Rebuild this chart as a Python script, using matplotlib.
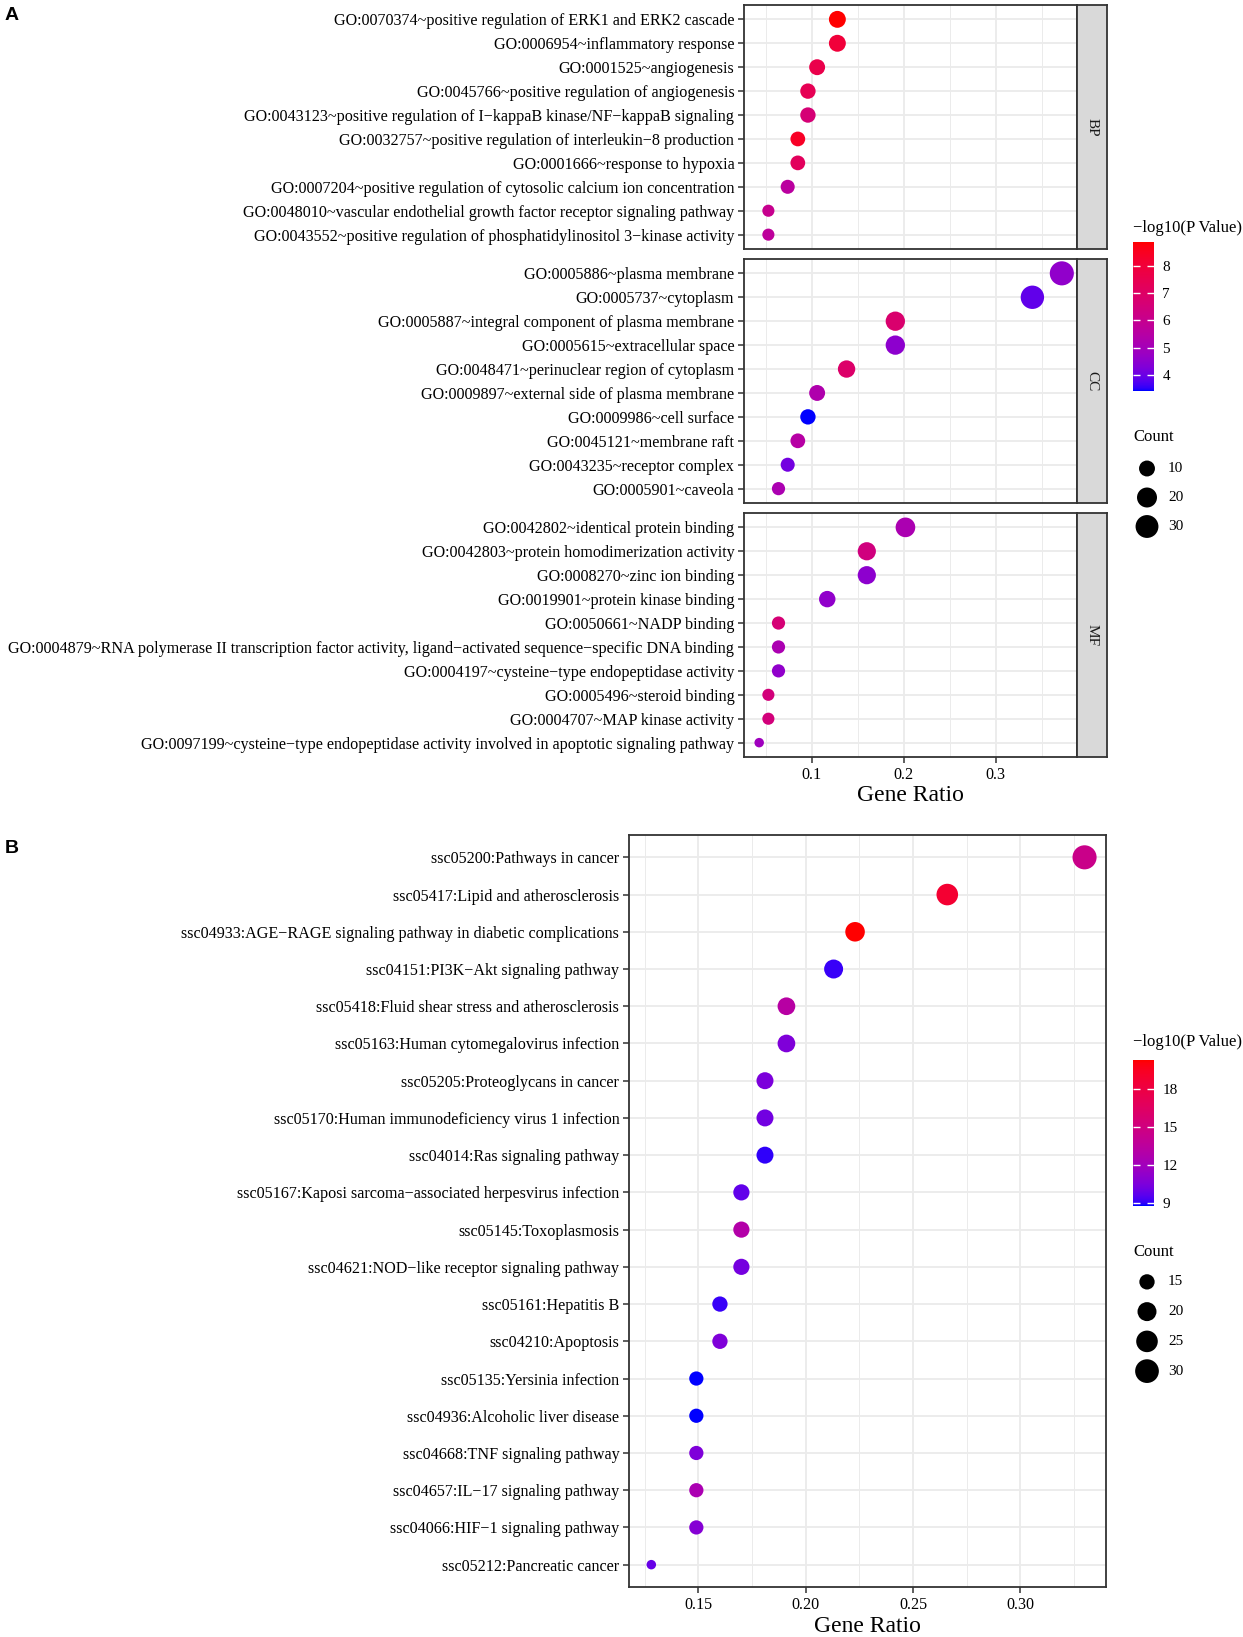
import numpy as np
import matplotlib
matplotlib.use("Agg")
import matplotlib.pyplot as plt
from matplotlib.colors import ListedColormap, Normalize
import matplotlib.cm as cm

plt.rcParams['font.family'] = ['Liberation Serif', 'DejaVu Serif']

# ---------------- panel A : GO terms ----------------
bp_terms = ["GO:0070374~positive regulation of ERK1 and ERK2 cascade",
            "GO:0006954~inflammatory response",
            "GO:0001525~angiogenesis",
            "GO:0045766~positive regulation of angiogenesis",
            "GO:0043123~positive regulation of I−kappaB kinase/NF−kappaB signaling",
            "GO:0032757~positive regulation of interleukin−8 production",
            "GO:0001666~response to hypoxia",
            "GO:0007204~positive regulation of cytosolic calcium ion concentration",
            "GO:0048010~vascular endothelial growth factor receptor signaling pathway",
            "GO:0043552~positive regulation of phosphatidylinositol 3−kinase activity"]
bp_ratio = [0.128, 0.128, 0.106, 0.096, 0.096, 0.085, 0.085, 0.074, 0.053, 0.053]
bp_count = [12, 12, 10, 9, 9, 8, 8, 7, 5, 5]
bp_logp = [8.88, 8.0, 7.6, 7.4, 6.6, 8.4, 7.2, 5.6, 6.0, 5.7]

cc_terms = ["GO:0005886~plasma membrane",
            "GO:0005737~cytoplasm",
            "GO:0005887~integral component of plasma membrane",
            "GO:0005615~extracellular space",
            "GO:0048471~perinuclear region of cytoplasm",
            "GO:0009897~external side of plasma membrane",
            "GO:0009986~cell surface",
            "GO:0045121~membrane raft",
            "GO:0043235~receptor complex",
            "GO:0005901~caveola"]
cc_ratio = [0.372, 0.340, 0.191, 0.191, 0.138, 0.106, 0.096, 0.085, 0.074, 0.064]
cc_count = [35, 32, 18, 18, 13, 10, 9, 8, 7, 6]
cc_logp = [4.6, 3.9, 6.8, 4.5, 6.9, 5.3, 3.41, 5.5, 4.1, 5.2]

mf_terms = ["GO:0042802~identical protein binding",
            "GO:0042803~protein homodimerization activity",
            "GO:0008270~zinc ion binding",
            "GO:0019901~protein kinase binding",
            "GO:0050661~NADP binding",
            "GO:0004879~RNA polymerase II transcription factor activity, ligand−activated sequence−specific DNA binding",
            "GO:0004197~cysteine−type endopeptidase activity",
            "GO:0005496~steroid binding",
            "GO:0004707~MAP kinase activity",
            "GO:0097199~cysteine−type endopeptidase activity involved in apoptotic signaling pathway"]
mf_ratio = [0.202, 0.160, 0.160, 0.117, 0.064, 0.064, 0.064, 0.053, 0.053, 0.043]
mf_count = [19, 15, 15, 11, 6, 6, 6, 5, 5, 4]
mf_logp = [5.2, 6.4, 4.5, 4.6, 6.6, 5.2, 4.6, 6.5, 6.5, 4.9]

a_logp_ticks = [4, 5, 6, 7, 8]
a_count_keys = [10, 20, 30]

# ---------------- panel B : KEGG pathways ----------------
kegg_terms = ["ssc05200:Pathways in cancer",
              "ssc05417:Lipid and atherosclerosis",
              "ssc04933:AGE−RAGE signaling pathway in diabetic complications",
              "ssc04151:PI3K−Akt signaling pathway",
              "ssc05418:Fluid shear stress and atherosclerosis",
              "ssc05163:Human cytomegalovirus infection",
              "ssc05205:Proteoglycans in cancer",
              "ssc05170:Human immunodeficiency virus 1 infection",
              "ssc04014:Ras signaling pathway",
              "ssc05167:Kaposi sarcoma−associated herpesvirus infection",
              "ssc05145:Toxoplasmosis",
              "ssc04621:NOD−like receptor signaling pathway",
              "ssc05161:Hepatitis B",
              "ssc04210:Apoptosis",
              "ssc05135:Yersinia infection",
              "ssc04936:Alcoholic liver disease",
              "ssc04668:TNF signaling pathway",
              "ssc04657:IL−17 signaling pathway",
              "ssc04066:HIF−1 signaling pathway",
              "ssc05212:Pancreatic cancer"]
kegg_ratio = [0.330, 0.266, 0.223, 0.213, 0.191, 0.191, 0.181, 0.181, 0.181, 0.170,
              0.170, 0.170, 0.160, 0.160, 0.149, 0.149, 0.149, 0.149, 0.149, 0.128]
kegg_count = [31, 25, 21, 20, 18, 18, 17, 17, 17, 16,
              16, 16, 15, 15, 14, 14, 14, 14, 14, 12]
kegg_logp = [14.5, 18.8, 20.3, 9.1, 13.2, 10.6, 10.5, 10.2, 9.0, 9.8,
             13.0, 10.3, 9.1, 10.6, 8.77, 8.8, 10.6, 12.5, 10.8, 9.9]

b_logp_ticks = [9, 12, 15, 18]
b_count_keys = [15, 20, 25, 30]


# blue -> red gradient interpolated in CIELAB (like ggplot's scale_colour_gradient)
WHITE = np.array([0.95047, 1.0, 1.08883])
M = np.array([[0.4124, 0.3576, 0.1805],
              [0.2126, 0.7152, 0.0722],
              [0.0193, 0.1192, 0.9505]])

def to_lab(rgb):
    c = np.asarray(rgb, float)
    lin = np.where(c <= 0.04045, c / 12.92, ((c + 0.055) / 1.055) ** 2.4)
    xyz = M @ lin / WHITE
    f = np.where(xyz > (6 / 29) ** 3, np.cbrt(xyz), xyz / (3 * (6 / 29) ** 2) + 4 / 29)
    return np.array([116 * f[1] - 16, 500 * (f[0] - f[1]), 200 * (f[1] - f[2])])

def to_rgb(lab):
    L, a, b = lab
    fy = (L + 16) / 116
    f = np.array([fy + a / 500, fy, fy - b / 200])
    xyz = np.where(f > 6 / 29, f ** 3, 3 * (6 / 29) ** 2 * (f - 4 / 29)) * WHITE
    lin = np.clip(np.linalg.solve(M, xyz), 0, 1)
    c = np.where(lin <= 0.0031308, 12.92 * lin, 1.055 * lin ** (1 / 2.4) - 0.055)
    return np.clip(c, 0, 1)

lo, hi = to_lab([0, 0, 1]), to_lab([1, 0, 0])
cmap = ListedColormap([to_rgb(lo + t * (hi - lo)) for t in np.linspace(0, 1, 256)])

W, H = 1243, 1637
fig = plt.figure(figsize=(W / 100, H / 100), dpi=100)

def px_axes(x0, y0, x1, y1):
    return fig.add_axes([x0 / W, 1 - y1 / H, (x1 - x0) / W, (y1 - y0) / H])

def dot_size(c, cmin, cmax):
    # ggplot area palette: radius ~ sqrt of the rescaled count
    d = 9.5 + 14.6 * np.sqrt((np.asarray(c, float) - cmin) / (cmax - cmin))
    return (d * 0.72) ** 2

EDGE = '#333333'
GRID = '#EBEBEB'
TICK_FS = 11.6

def style(ax, xlim, major, minor):
    ax.set_xlim(*xlim)
    ax.set_xticks(major)
    ax.set_xticks(minor, minor=True)
    ax.grid(True, which='major', color=GRID, lw=1.3, zorder=0)
    ax.grid(True, which='minor', axis='x', color=GRID, lw=0.7, zorder=0)
    ax.set_axisbelow(True)
    for s in ax.spines.values():
        s.set_color(EDGE)
        s.set_linewidth(1.3)
    ax.tick_params(which='major', length=4, width=1.1, color=EDGE, labelsize=TICK_FS, pad=3)
    ax.tick_params(which='minor', length=0)

# ---- A
a_all = bp_count + cc_count + mf_count
a_lp = bp_logp + cc_logp + mf_logp
a_norm = Normalize(min(a_lp), max(a_lp))
cmin_a, cmax_a = min(a_all), max(a_all)

facets = [("BP", bp_terms, bp_ratio, bp_count, bp_logp),
          ("CC", cc_terms, cc_ratio, cc_count, cc_logp),
          ("MF", mf_terms, mf_ratio, mf_count, mf_logp)]
tops = [5, 259, 513]
for i, (name, terms, ratio, count, logp) in enumerate(facets):
    top = tops[i]
    ax = px_axes(744, top, 1077, top + 244)
    n = len(terms)
    y = np.arange(n, 0, -1)
    ax.scatter(ratio, y, s=dot_size(count, cmin_a, cmax_a), c=logp,
               cmap=cmap, norm=a_norm, edgecolors='none', zorder=3)
    ax.set_ylim(0.4, n + 0.6)
    ax.set_yticks(y)
    ax.set_yticklabels(terms)
    style(ax, (0.0265, 0.3885), [0.1, 0.2, 0.3], [0.05, 0.15, 0.25, 0.35])
    if i < 2:
        ax.tick_params(axis='x', which='both', bottom=False, labelbottom=False)
    else:
        ax.set_xticklabels(["0.1", "0.2", "0.3"])
        ax.set_xlabel("Gene Ratio", fontsize=17, labelpad=2)
    st = px_axes(1077, top, 1107, top + 244)
    st.set_facecolor('#D9D9D9')
    st.set_xticks([])
    st.set_yticks([])
    for s in st.spines.values():
        s.set_color(EDGE)
        s.set_linewidth(1.3)
    st.text(0.5, 0.5, name, rotation=-90, ha='center', va='center', fontsize=11,
            color='#1A1A1A', transform=st.transAxes)

# ---- B
ax = px_axes(629, 835, 1106, 1587)
y = np.arange(len(kegg_terms), 0, -1)
b_norm = Normalize(min(kegg_logp), max(kegg_logp))
cmin_b, cmax_b = min(kegg_count), max(kegg_count)
ax.scatter(kegg_ratio, y, s=dot_size(kegg_count, cmin_b, cmax_b), c=kegg_logp,
           cmap=cmap, norm=b_norm, edgecolors='none', zorder=3)
ax.set_ylim(0.4, len(kegg_terms) + 0.6)
ax.set_yticks(y)
ax.set_yticklabels(kegg_terms)
style(ax, (0.1176, 0.3400), [0.15, 0.20, 0.25, 0.30], [0.125, 0.175, 0.225, 0.275, 0.325])
ax.set_xticklabels(["0.15", "0.20", "0.25", "0.30"])
ax.set_xlabel("Gene Ratio", fontsize=17, labelpad=2)


# ---- legends
def colour_legend(norm, ticks, x0, ytitle, y0, y1):
    fig.text(x0 / W, 1 - ytitle / H, "−log10(P Value)", fontsize=12, va='center', ha='left')
    cax = px_axes(x0, y0, x0 + 21, y1)
    cb = fig.colorbar(cm.ScalarMappable(norm=norm, cmap=cmap), cax=cax, ticks=ticks)
    cb.outline.set_visible(False)
    cax.tick_params(direction='in', length=5, width=1, color='white', left=True, right=True,
                    labelsize=11, pad=6)

def count_legend(keys, cmin, cmax, x0, ytitle, y0, y1):
    fig.text(x0 / W, 1 - ytitle / H, "Count", fontsize=12, va='center', ha='left')
    lax = px_axes(x0, y0, x0 + 110, y1)
    k = len(keys)
    pos = np.arange(k - 1, -1, -1)
    lax.scatter(np.full(k, 14), pos, s=dot_size(keys, cmin, cmax), color='black',
                edgecolors='none')
    for p, kv in zip(pos, keys):
        lax.text(35, p, str(kv), fontsize=11, va='center', ha='left')
    lax.set_xlim(0, 110)
    lax.set_ylim(-0.5, k - 0.5)
    lax.axis('off')

colour_legend(a_norm, a_logp_ticks, 1133, 228, 242, 391)
count_legend(a_count_keys, cmin_a, cmax_a, 1133, 437, 454, 541)
colour_legend(b_norm, b_logp_ticks, 1133, 1042, 1060, 1206)
count_legend(b_count_keys, cmin_b, cmax_b, 1133, 1252, 1267, 1386)

fig.text(5 / W, 1 - 16 / H, "A", fontsize=14, fontweight='bold', family='Liberation Sans',
         va='center', ha='left')
fig.text(5 / W, 1 - 848 / H, "B", fontsize=14, fontweight='bold', family='Liberation Sans',
         va='center', ha='left')

fig.savefig("out.png", dpi=100)
